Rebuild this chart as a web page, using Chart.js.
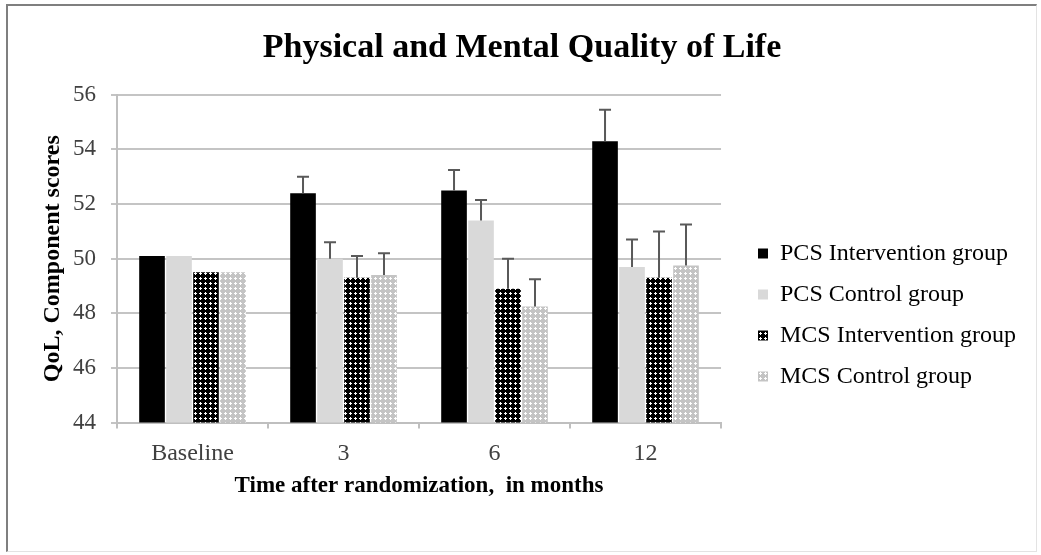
<!DOCTYPE html>
<html>
<head>
<meta charset="utf-8">
<title>Physical and Mental Quality of Life</title>
<script src="https://cdn.jsdelivr.net/npm/chart.js@4.4.1/dist/chart.umd.min.js"></script>
<style>
    body { margin: 0; background: #fff; }
    #frame {
        position: absolute;
        left: 6px;
        top: 4px;
        width: 1028px;
        height: 545px;
        border-top: 2px solid #7f7f7f;
        border-left: 2px solid #7f7f7f;
        border-right: 1px solid #e3e3e3;
        border-bottom: 1px solid #e3e3e3;
    }
    canvas { display: block; }
</style>
</head>
<body>
<div id="frame">
    <canvas id="qolChart" width="1028" height="545"></canvas>
</div>
<script>
// Données
const categories = ["Baseline", "3", "6", "12"];
const seriesNames = ["PCS Intervention group", "PCS Control group", "MCS Intervention group", "MCS Control group"];

const pcsIntervention = [50.1, 52.4, 52.5, 54.3];
const pcsControl = [50.1, 50.0, 51.4, 49.7];
const mcsIntervention = [49.5, 49.3, 48.9, 49.3];
const mcsControl = [49.5, 49.4, 48.25, 49.75];

// Barres d'erreur (vers le haut seulement)
const pcsInterventionErr = [0, 0.6, 0.75, 1.15];
const pcsControlErr = [0, 0.6, 0.75, 1.0];
const mcsInterventionErr = [0, 0.8, 1.1, 1.7];
const mcsControlErr = [0, 0.8, 1.0, 1.5];

const yMin = 44;
const yMax = 56;
const yStep = 2;

const serif = "'Liberation Serif', 'Times New Roman', serif";
const ctx = document.getElementById('qolChart').getContext('2d');

// Motif à pois pour les séries MCS
function makePattern(bg, dot) {
    const tile = document.createElement('canvas');
    tile.width = 5;
    tile.height = 5;
    const t = tile.getContext('2d');
    t.fillStyle = bg;
    t.fillRect(0, 0, 5, 5);
    t.fillStyle = dot;
    t.fillRect(1, 1, 3, 3);
    t.fillStyle = bg;
    t.fillRect(1, 1, 1, 1);
    t.fillRect(3, 1, 1, 1);
    t.fillRect(1, 3, 1, 1);
    t.fillRect(3, 3, 1, 1);
    return ctx.createPattern(tile, 'repeat');
}

// Dessine les barres d'erreur au-dessus de chaque barre
const errorBars = {
    id: 'errorBars',
    afterDatasetsDraw(chart) {
        const c = chart.ctx;
        const yScale = chart.scales.y;
        c.save();
        c.strokeStyle = '#595959';
        c.lineWidth = 2;
        chart.data.datasets.forEach((ds, i) => {
            const meta = chart.getDatasetMeta(i);
            meta.data.forEach((bar, j) => {
                const err = ds.errors[j];
                if (!err) return;
                const top = yScale.getPixelForValue(ds.data[j] + err);
                c.beginPath();
                c.moveTo(bar.x, bar.y);
                c.lineTo(bar.x, top);
                c.moveTo(bar.x - 6, top);
                c.lineTo(bar.x + 6, top);
                c.stroke();
            });
        });
        c.restore();
    }
};

// La légende se colle à la zone de tracé : on la décale à droite et vers le bas
const legendShift = {
    id: 'legendShift',
    afterLayout(chart) {
        chart.legend.left += 20;
        chart.legend.right += 20;
        chart.legend.top += 58;
        chart.legend.bottom += 58;
    }
};

const chart = new Chart(ctx, {
    type: 'bar',
    data: {
        labels: categories,
        datasets: [
            { label: seriesNames[0], data: pcsIntervention, errors: pcsInterventionErr, backgroundColor: '#000000' },
            { label: seriesNames[1], data: pcsControl, errors: pcsControlErr, backgroundColor: '#d9d9d9' },
            { label: seriesNames[2], data: mcsIntervention, errors: mcsInterventionErr, backgroundColor: makePattern('#000000', '#ffffff') },
            { label: seriesNames[3], data: mcsControl, errors: mcsControlErr, backgroundColor: makePattern('#c4c4c4', '#ffffff') },
        ],
    },
    options: {
        responsive: false,
        animation: false,
        devicePixelRatio: 1,
        categoryPercentage: 0.715,
        barPercentage: 0.95,
        layout: {
            padding: { left: 30, right: 30, top: 0, bottom: 43 },
        },
        plugins: {
            title: {
                display: true,
                text: 'Physical and Mental Quality of Life',
                color: '#000',
                font: { family: serif, size: 34, weight: 'bold' },
                padding: { top: 22, bottom: 26 },
            },
            legend: {
                position: 'right',
                maxWidth: 400,
                labels: {
                    color: '#000',
                    font: { family: serif, size: 24 },
                    boxWidth: 10,
                    boxHeight: 10,
                    padding: 17,
                },
            },
            tooltip: { enabled: false },
        },
        scales: {
            x: {
                grid: {
                    display: true,
                    drawOnChartArea: false,
                    drawTicks: true,
                    tickLength: 6,
                    color: '#bfbfbf',
                    lineWidth: 2,
                },
                border: { color: '#bfbfbf', width: 2 },
                ticks: {
                    color: '#404040',
                    font: { family: serif, size: 24 },
                    padding: 11,
                },
                title: {
                    display: true,
                    text: 'Time after randomization,  in months',
                    color: '#000',
                    font: { family: serif, size: 23, weight: 'bold' },
                    padding: { top: -7, bottom: 8 },
                },
            },
            y: {
                min: yMin,
                max: yMax,
                ticks: {
                    stepSize: yStep,
                    color: '#404040',
                    font: { family: serif, size: 23 },
                    padding: 15,
                },
                grid: {
                    color: '#c4c4c4',
                    lineWidth: 2,
                    tickLength: 6,
                },
                border: { color: '#bfbfbf', width: 2 },
                title: {
                    display: true,
                    text: 'QoL, Component scores',
                    color: '#000',
                    font: { family: serif, size: 24, weight: 'bold' },
                    padding: { top: 0, bottom: 0 },
                },
                afterFit(scale) {
                    scale.width = 79;
                },
            },
        },
    },
    plugins: [errorBars, legendShift],
});
</script>
</body>
</html>
